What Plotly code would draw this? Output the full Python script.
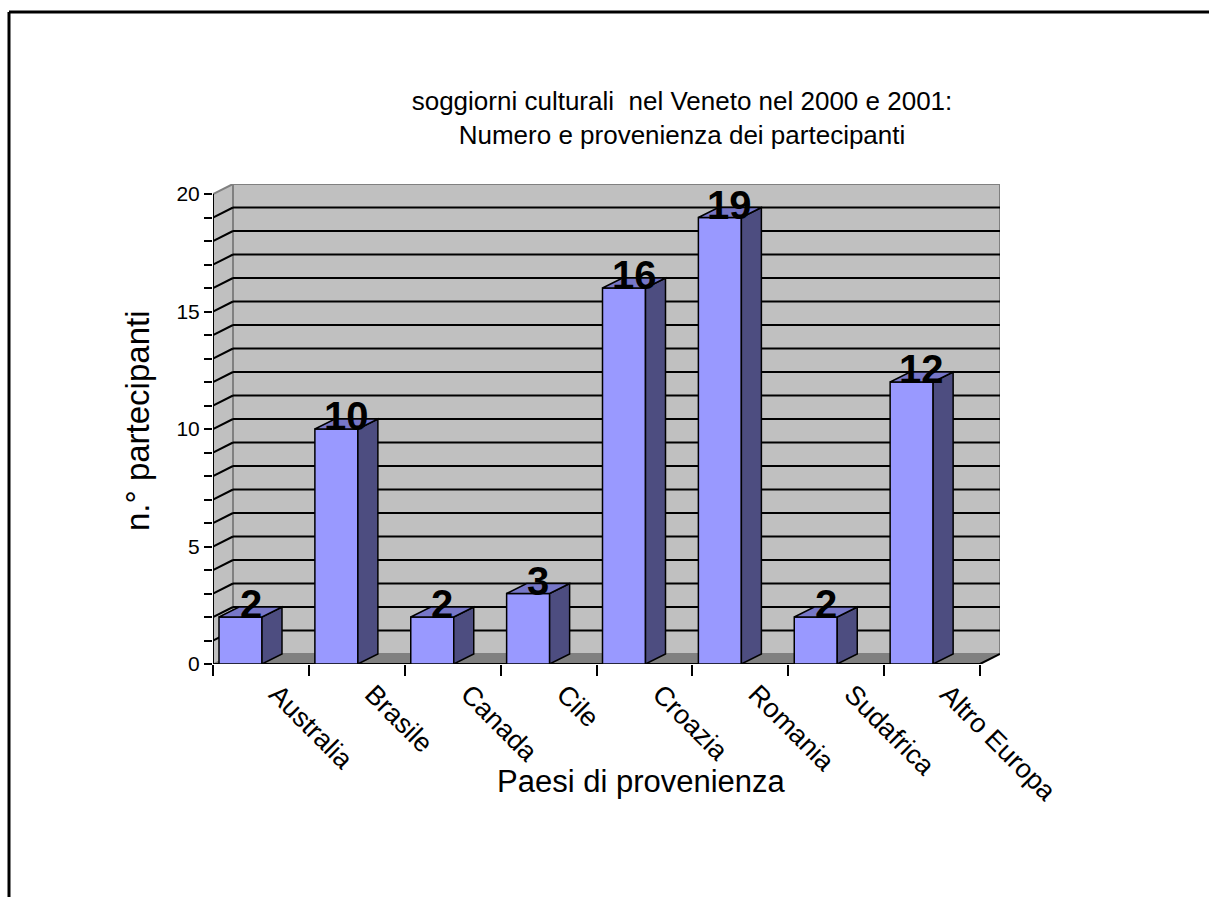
import plotly.graph_objects as go

# ---- data ----
categories = ["Australia", "Brasile", "Canada", "Cile", "Croazia", "Romania", "Sudafrica", "Altro Europa"]
values = [2, 10, 2, 3, 16, 19, 2, 12]
y_max = 20
title_lines = ["soggiorni culturali  nel Veneto nel 2000 e 2001:", "Numero e provenienza dei partecipanti"]
x_title = "Paesi di provenienza"
y_title = "n.° partecipanti"

# ---- layout geometry (pixels) ----
W, H = 1209, 897
PL, PR, PT, PB = 213, 1000, 184, 664          # plot area
N = len(categories)
cat_px = (980 - 213) / N                      # pixel width of one category
DEPTH_X_PX, DEPTH_Y_PX = 20, 10               # 3D depth offset
y_px_per_unit = (PB - PT - DEPTH_Y_PX) / y_max

DX = DEPTH_X_PX / cat_px
DY = DEPTH_Y_PX / y_px_per_unit
x_lo, x_hi = -0.5, N - 0.5
BAR_OFF = 6 / cat_px
BAR_W = 43 / cat_px

FRONT = "#9999FF"
SIDE = "#4D4D80"
TOP = "#7777C8"
WALL = "#C0C0C0"
FLOOR = "#808080"
FONT = "Liberation Sans, Arial, sans-serif"

shapes = []

def poly(pts, fill, lc="black", lw=0):
    d = "M " + " L ".join(f"{x},{y}" for x, y in pts) + " Z"
    s = dict(type="path", path=d, xref="x", yref="y", fillcolor=fill, layer="above",
             line=dict(color=lc, width=lw))
    shapes.append(s)

def line(x0, y0, x1, y1, color="black", width=2, xref="x", yref="y"):
    shapes.append(dict(type="line", x0=x0, y0=y0, x1=x1, y1=y1, xref=xref, yref=yref,
                       layer="above", line=dict(color=color, width=width)))

# side wall and back wall
poly([(x_lo, 0), (x_lo, y_max), (x_lo + DX, y_max + DY), (x_lo + DX, DY)], WALL)
poly([(x_lo + DX, DY), (x_hi + DX, DY), (x_hi + DX, y_max + DY), (x_lo + DX, y_max + DY)], WALL, "#808080", 2)
# gridlines
for v in range(1, y_max):
    line(x_lo, v, x_lo + DX, v + DY)
    line(x_lo + DX, v + DY, x_hi + DX, v + DY)
line(x_lo, y_max, x_lo + DX, y_max + DY, "#808080", 2)
# floor
poly([(x_lo, 0), (x_hi, 0), (x_hi + DX, DY), (x_lo + DX, DY)], FLOOR)
line(x_lo, 0, x_lo + DX, DY, "#808080", 1)
# axis lines
line(x_lo, 0, x_lo, y_max)
line(x_lo, 0, x_hi, 0)
line(x_hi, 0, x_hi + DX, DY)

# bars
annotations = []
for i, (c, v) in enumerate(zip(categories, values)):
    L = i - 0.5 + BAR_OFF
    R = L + BAR_W
    poly([(L, 0), (R, 0), (R, v), (L, v)], FRONT, "black", 1.5)
    poly([(R, 0), (R + DX, DY), (R + DX, v + DY), (R, v)], SIDE, "black", 1.5)
    poly([(L, v), (R, v), (R + DX, v + DY), (L + DX, v + DY)], TOP, "black", 1.5)
    annotations.append(dict(x=(L + R) / 2 + DX / 2, y=v, xref="x", yref="y", text=str(v),
                            showarrow=False, yanchor="middle", yshift=13,
                            font=dict(family=FONT, size=40, color="black", weight="bold")))

def px_to_paper(px, py):
    return (px - PL) / (PR - PL), (PB - py) / (PB - PT)

# outer frame
fx0, fy0 = px_to_paper(9, 12)
fx1, fy1 = px_to_paper(W + 5, H + 5)
line(fx0, fy0, fx1, fy0, "black", 3, "paper", "paper")
line(fx0, fy0, fx0, fy1, "black", 3, "paper", "paper")

# axis titles
ax, ay = px_to_paper(641, 781)
annotations.append(dict(x=ax, y=ay, xref="paper", yref="paper", text=x_title, showarrow=False,
                        xanchor="center", yanchor="middle", font=dict(family=FONT, size=31, color="black")))
ax, ay = px_to_paper(137, 421)
annotations.append(dict(x=ax, y=ay, xref="paper", yref="paper", text=y_title, showarrow=False,
                        textangle=-90, xanchor="center", yanchor="middle",
                        font=dict(family=FONT, size=33, color="black")))

fig = go.Figure()
fig.add_trace(go.Bar(x=categories, y=[0] * N, marker_color="rgba(0,0,0,0)", hoverinfo="skip", showlegend=False))

fig.update_layout(
    width=W, height=H,
    margin=dict(l=PL, r=W - PR, t=PT, b=H - PB, autoexpand=False),
    paper_bgcolor="white", plot_bgcolor="white",
    title=dict(text="<br>".join(title_lines), x=682 / W, y=1 - 110 / H, xanchor="center",
               yanchor="middle", font=dict(family=FONT, size=26, color="black")),
    xaxis=dict(type="category", categoryorder="array", categoryarray=categories,
               range=[x_lo, x_hi + DX], tickson="boundaries", ticks="outside", ticklen=11,
               tickwidth=2, tickcolor="black", tickangle=45, showgrid=False, showline=False,
               zeroline=False, tickfont=dict(family=FONT, size=27, color="black"),
               ticklabelstandoff=8, ticklabelshift=16, fixedrange=True),
    yaxis=dict(range=[0, y_max + DY], tickvals=list(range(0, y_max + 1, 5)), ticks="outside",
               ticklen=8, tickwidth=2, tickcolor="black", showgrid=False, showline=False,
               zeroline=False, tickfont=dict(family=FONT, size=21, color="black"),
               minor=dict(dtick=1, ticks="outside", ticklen=8, tickwidth=2, tickcolor="black"),
               fixedrange=True),
    shapes=shapes, annotations=annotations, showlegend=False,
)

fig.write_html("out.html", config={"displayModeBar": False},
               post_script="document.body.style.margin='0';document.body.style.overflow='hidden';")
